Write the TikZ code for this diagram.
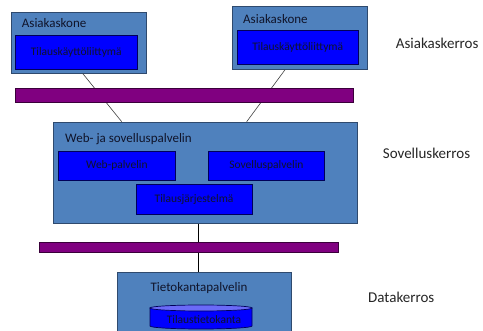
\documentclass[tikz,border=0pt]{standalone}
\usepackage{fontspec}
\setmainfont{Carlito}
\definecolor{outerfill}{HTML}{4F81BD}
\definecolor{outerdraw}{HTML}{2F4A6E}
\definecolor{innerfill}{HTML}{0000FF}
\definecolor{innerdraw}{HTML}{00005A}
\definecolor{barfill}{HTML}{800080}
\definecolor{bardraw}{HTML}{3A003A}
\definecolor{txtdark}{HTML}{10142A}
\definecolor{cyltop}{HTML}{6A6AF8}
\tikzset{
  outerbox/.style={draw=outerdraw, fill=outerfill, line width=0.8pt, anchor=north west, inner sep=0pt},
  innerbox/.style={draw=innerdraw, fill=innerfill, line width=0.8pt, anchor=north west, inner sep=0pt, font=\fontsize{11.5}{12}\selectfont, text=txtdark},
  barbox/.style={draw=bardraw, fill=barfill, line width=0.6pt, anchor=north west, inner sep=0pt},
  boxlabel/.style={inner sep=0pt, font=\fontsize{13}{14}\selectfont, text=txtdark},
  layerlabel/.style={inner sep=0pt, anchor=base west, font=\fontsize{15}{16}\selectfont, text=black!85},
  conn/.style={draw=black!75, line width=0.6pt}
}
\begin{document}
\begin{tikzpicture}[x=1pt,y=-1pt]
\useasboundingbox (0,0) rectangle (483,331);
\clip (0,0) rectangle (483,331);
\fill[white] (0,0) rectangle (483,331);
% client machines
\node[outerbox, minimum width=135pt, minimum height=61pt] (c1) at (10.7,11.7) {};
\node[boxlabel, anchor=base west] (c1l) at (21.7,27.7) {Asiakaskone};
\node[innerbox, minimum width=121.7pt, minimum height=34pt] (c1i) at (15,35) {Tilauskäyttöliittymä};
\node[outerbox, minimum width=135.3pt, minimum height=63pt] (c2) at (231.7,6) {};
\node[boxlabel, anchor=base west] (c2l) at (243,23.3) {Asiakaskone};
\node[innerbox, minimum width=121.3pt, minimum height=34pt] (c2i) at (236.7,30) {Tilauskäyttöliittymä};
% application server
\node[outerbox, minimum width=303.7pt, minimum height=101.6pt] (web) at (53.3,121.7) {};
\node[boxlabel, anchor=base west] (webl) at (65,142.3) {Web- ja sovelluspalvelin};
\node[innerbox, minimum width=116.4pt, minimum height=29.3pt] (wp) at (58.3,150.7) {Web-palvelin};
\node[innerbox, minimum width=115.4pt, minimum height=29.3pt] (sp) at (208.3,150.7) {Sovelluspalvelin};
\node[innerbox, minimum width=116pt, minimum height=29.4pt] (tj) at (135.7,184.3) {Tilausjärjestelmä};
% database server
\node[outerbox, minimum width=174pt, minimum height=70pt] (db) at (116.7,271.7) {};
\node[boxlabel, anchor=base] (dbl) at (199,291.7) {Tietokantapalvelin};
\fill[innerfill, draw=innerdraw, line width=0.7pt] (150,308) -- (150,326) arc[start angle=180, end angle=0, x radius=51, y radius=3] -- (252,308) -- cycle;
\draw[fill=cyltop, draw=innerdraw, line width=0.7pt] (201,308) ellipse[x radius=51, y radius=3];
\node[inner sep=0pt, font=\fontsize{11.5}{12}\selectfont, text=txtdark] (cyl) at (204,320) {Tilaustietokanta};
% connectors
\draw[conn] ([xshift=72pt]c1.south west) -- ([xshift=68.4pt]web.north west);
\draw[conn] ([xshift=53.3pt]c2.south west) -- ([xshift=193.4pt]web.north west);
\coordinate (wb) at ([xshift=-6.9pt]web.south);
\draw[conn, draw=black] (wb) -- (wb |- db.north);
% network bars
\node[barbox, minimum width=338pt, minimum height=14pt] (bar1) at (15.3,88) {};
\node[barbox, minimum width=299.3pt, minimum height=10pt] (bar2) at (39,242) {};
% layer labels
\node[layerlabel] (l1) at (395.7,49) {Asiakaskerros};
\node[layerlabel] (l2) at (382.7,159) {Sovelluskerros};
\node[layerlabel] (l3) at (368,302.3) {Datakerros};
\end{tikzpicture}
\end{document}
